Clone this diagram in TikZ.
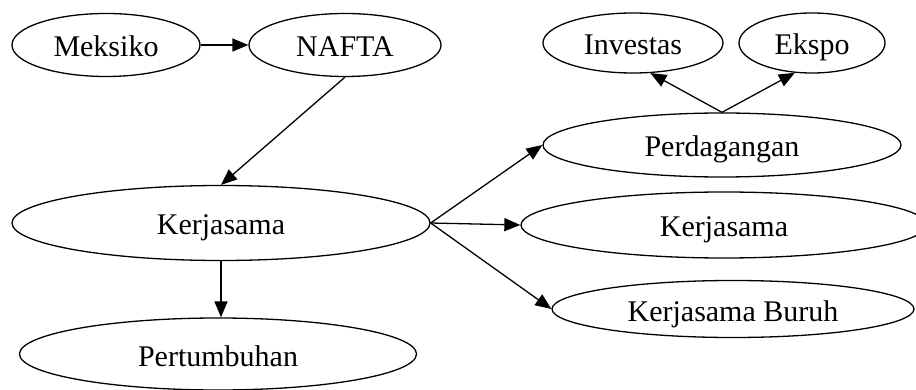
\documentclass[tikz,border=0pt]{standalone}
\usepackage{fontspec}
\setmainfont{Liberation Serif}
\usetikzlibrary{shapes.geometric, arrows.meta}

\begin{document}
\begin{tikzpicture}[x = 1pt, y = -1pt,
	oval/.style = {draw, ellipse, line width = 1.3pt, inner sep = 0pt,
		text height = 24pt, text depth = 0pt, font = \fontsize{30}{36}\selectfont},
	link/.style = {line width = 1.3pt, -{Triangle[length = 16pt, width = 13pt]}}]

\useasboundingbox (0, 0) rectangle (916, 390);

\node[oval, minimum width = 188, minimum height = 63] (meksiko) at (106, 45) {Meksiko};
\node[oval, minimum width = 192, minimum height = 63] (nafta) at (345, 45) {NAFTA};
\node[oval, minimum width = 418, minimum height = 75] (kerjasama) at (221, 223) {Kerjasama};
\node[oval, minimum width = 397, minimum height = 72] (pertumbuhan) at (218, 354) {Pertumbuhan};

\node[oval, minimum width = 180, minimum height = 60] (investas) at (633, 43) {Investas};
\node[oval, minimum width = 146, minimum height = 60] (ekspo) at (812, 43) {Ekspo};
\node[oval, minimum width = 358, minimum height = 64] (perdagangan) at (722, 145) {Perdagangan};
\node[oval, minimum width = 406, minimum height = 66] (kerjasama2) at (724, 225) {Kerjasama};
\node[oval, minimum width = 362, minimum height = 57] (buruh) at (733, 309) {Kerjasama Buruh};

\draw[link] (meksiko) -- (nafta);
\draw[link] (nafta.south) -- (kerjasama.north);
\draw[link] (kerjasama.south) -- (kerjasama.south |- pertumbuhan.north);

\foreach \t in {perdagangan, kerjasama2, buruh} {
	\draw[link] (kerjasama.east) -- (\t.west);
}

\draw[link] (perdagangan.north) -- (investas.-60);
\draw[link] (perdagangan.north) -- (ekspo.-120);

\end{tikzpicture}
\end{document}
